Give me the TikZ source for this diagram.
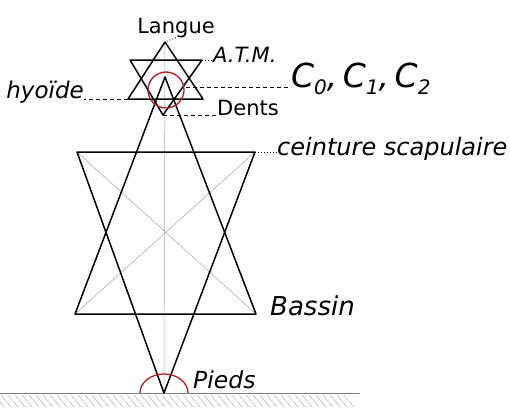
\documentclass[tikz,border=0pt]{standalone}
\usepackage{fontspec}
\newfontfamily\hand{DejaVu Sans}
\newcommand\fsz[1]{\fontsize{#1}{#1}\selectfont}
\newcommand\lowsub[1]{\raisebox{-7pt}{\fsz{20}#1}}
\definecolor{inkred}{RGB}{175,30,35}
\definecolor{guidegray}{RGB}{165,165,165}
\tikzset{
  bold/.style={line width=1.5pt,black,line join=round},
  guide/.style={line width=0.5pt,guidegray},
  redline/.style={line width=1.3pt,inkred},
  dashlead/.style={line width=0.7pt,black,dash pattern=on 4pt off 3pt},
  dotlead/.style={line width=0.7pt,black,dash pattern=on 1pt off 2pt},
  lbl/.style={inner sep=0pt},
  hatchline/.style={line width=0.4pt,guidegray}
}
\begin{document}
\begin{tikzpicture}[x=1pt,y=-1pt]
\useasboundingbox (0,0) rectangle (510,407);
% vertices
\coordinate (sA) at (165,42);
\coordinate (sBL) at (128,99);
\coordinate (sBR) at (203,99);
\coordinate (sTL) at (130,60);
\coordinate (sTR) at (202,60);
\coordinate (sD) at (163,115);
\coordinate (bA) at (165,77);
\coordinate (bBL) at (75,314);
\coordinate (bBR) at (256,314);
\coordinate (bTL) at (77,152);
\coordinate (bTR) at (255,152);
\coordinate (feet) at (164,393);
\coordinate (circC) at (166,90);
\coordinate (circR) at (186,87);
% ground
\draw[line width=0.6pt,gray] (0,393) -- (360,393);
\foreach \x in {-6,1,...,350} \draw[hatchline] (\x,395) -- (\x+10,407);
% guides
\draw[guide] (bTL) -- (bBR);
\draw[guide] (bTR) -- (bBL);
\draw[guide] (sA) -- (feet);
% triangles
\draw[bold] (sA) -- (sBL) -- (sBR) -- cycle;
\draw[bold] (sTL) -- (sTR) -- (sD) -- cycle;
\draw[bold] (bA) -- (bBL) -- (bBR) -- cycle;
\draw[bold] (bTL) -- (bTR) -- (feet) -- cycle;
% red
\draw[redline] (circC) circle (18);
\draw[redline] (140,393) arc[start angle=180,end angle=360,x radius=24,y radius=19];
% labels
\node[lbl,anchor=base] (langue) at (176,33) {\hand\fsz{21}Langue};
\node[lbl,anchor=base west] (atm) at (213,62) {\hand\itshape\fsz{21}A.T.M.};
\node[lbl,anchor=base west] (cc) at (291,87) {\hand\itshape\fsz{33}C\lowsub{0},\,C\lowsub{1},\,C\lowsub{2}};
\node[lbl,anchor=base east] (hy) at (84,98) {\hand\itshape\fsz{23}hyoïde};
\node[lbl,anchor=base west] (dents) at (217,115) {\hand\fsz{21}Dents};
\node[lbl,anchor=base west] (ceint) at (277,155) {\hand\itshape\fsz{24}ceinture scapulaire};
\node[lbl,anchor=base west] (bassin) at (270,315) {\hand\itshape\fsz{26}Bassin};
\node[lbl,anchor=base west] (pieds) at (193,388) {\hand\itshape\fsz{23.5}Pieds};
% leaders
\draw[dotlead] (langue.south) -- (sA);
\draw[dotlead] (sTR) -- (sTR -| atm.west);
\draw[dashlead] (circR) -- (circR -| cc.west);
\draw[dashlead] (sBL) -- (sBL -| hy.east);
\draw[dashlead] (sD) -- (sD -| dents.west);
\draw[dotlead] (bTR) -- (bTR -| ceint.west);
\end{tikzpicture}
\end{document}
